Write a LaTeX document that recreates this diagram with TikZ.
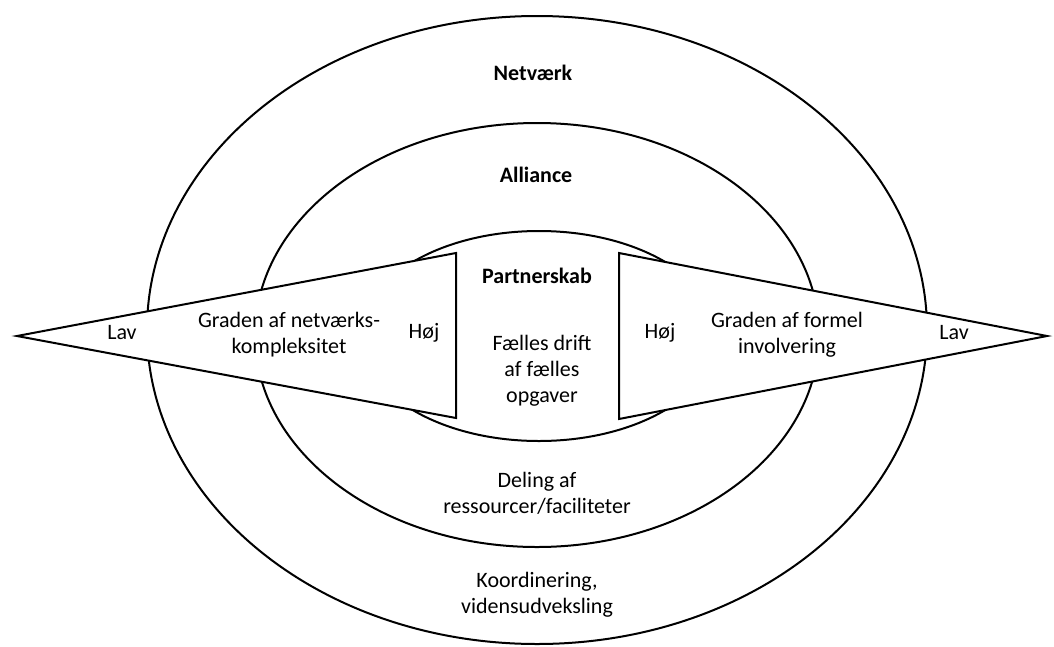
\documentclass[tikz,border=0pt]{standalone}
\usepackage{fontspec}
\setmainfont{Carlito}
\usetikzlibrary{shapes.geometric}

\begin{document}
\begin{tikzpicture}[x=1pt,y=-1pt,line width=2pt,
  ring/.style={ellipse,draw,inner sep=0pt},
  txt/.style={align=center,inner sep=0pt,font=\fontsize{22}{26}\selectfont},
  head/.style={txt,font=\fontsize{22}{26}\selectfont\bfseries},
  wedge/.style={draw,fill=white,line join=miter}]
\useasboundingbox (0,0) rectangle (1054,646);
% rings
\node [ring,minimum width=780pt,minimum height=628pt] (netv) at (537,330) {};
\node [ring,minimum width=564pt,minimum height=424pt] (alli) at (537,335) {};
\node [ring,minimum width=356pt,minimum height=210pt] (part) at (539,336) {};
% wedges
\coordinate (ltip) at (17,336);
\coordinate (ltop) at (456,253);
\coordinate (lbot) at (456,418);
\coordinate (rtip) at (1047,336);
\coordinate (rtop) at (619,253);
\coordinate (rbot) at (619,419);
\path [wedge] (ltip) -- (ltop) -- (lbot) -- cycle;
\path [wedge] (rtip) -- (rtop) -- (rbot) -- cycle;
% labels
\node [head] (netvlbl) at (533,73) {Netværk};
\node [head] (allilbl) at (536,175) {Alliance};
\node [head] (partlbl) at (537,276) {Partnerskab};
\node [txt] (drift) at (542,371) {Fælles drift\\af fælles\\opgaver};
\node [txt] (deling) at (537,493) {Deling af\\ressourcer/faciliteter};
\node [txt] (koord) at (537,595) {Koordinering,\\vidensudveksling};
\node [txt] (llav) at (122,333) {Lav};
\node [txt] (lgrad) at (289,335) {Graden af netværks-\\kompleksitet};
\node [txt] (lhoj) at (424,333) {Høj};
\node [txt] (rhoj) at (660,333) {Høj};
\node [txt] (rgrad) at (787,335) {Graden af formel\\involvering};
\node [txt] (rlav) at (954,333) {Lav};
\end{tikzpicture}
\end{document}
